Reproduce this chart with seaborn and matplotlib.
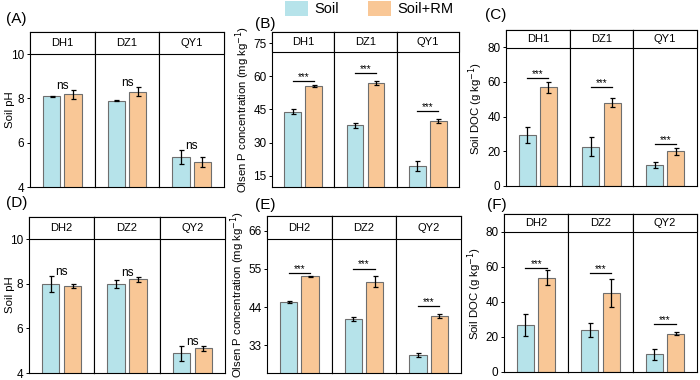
import matplotlib
matplotlib.use("Agg")
import matplotlib.pyplot as plt
from matplotlib.patches import Patch, Rectangle
import seaborn as sns
import pandas as pd

# ---- data ----
treatments = ["Soil", "Soil+RM"]

sites_1 = ["DH1", "DZ1", "QY1"]
sites_2 = ["DH2", "DZ2", "QY2"]

ph1_soil = [8.09, 7.90, 5.35]
ph1_soil_sd = [0.03, 0.02, 0.32]
ph1_rm = [8.18, 8.30, 5.12]
ph1_rm_sd = [0.22, 0.21, 0.22]

olsen1_soil = [44.0, 37.8, 19.5]
olsen1_soil_sd = [1.0, 1.0, 2.1]
olsen1_rm = [55.6, 57.0, 39.9]
olsen1_rm_sd = [0.6, 1.0, 1.0]

doc1_soil = [29.2, 22.7, 12.1]
doc1_soil_sd = [4.6, 5.6, 1.9]
doc1_rm = [56.9, 48.1, 20.0]
doc1_rm_sd = [3.0, 2.7, 2.2]

ph2_soil = [8.00, 8.00, 4.89]
ph2_soil_sd = [0.37, 0.17, 0.33]
ph2_rm = [7.90, 8.20, 5.10]
ph2_rm_sd = [0.10, 0.10, 0.11]

olsen2_soil = [45.6, 40.6, 30.3]
olsen2_soil_sd = [0.3, 0.65, 0.6]
olsen2_rm = [52.9, 51.3, 41.5]
olsen2_rm_sd = [0.2, 1.6, 0.6]

doc2_soil = [26.8, 23.9, 10.0]
doc2_soil_sd = [6.1, 4.1, 3.0]
doc2_rm = [53.8, 44.8, 21.8]
doc2_rm_sd = [4.1, 8.0, 1.0]

# significance labels and bracket heights
sig_ph1 = ["ns", "ns", "ns"]
sig_olsen1 = ["***", "***", "***"]
sig_olsen1_y = [57.8, 61.5, 44.3]
sig_doc1 = ["***", "***", "***"]
sig_doc1_y = [62.1, 57.1, 24.4]
sig_ph2 = ["ns", "ns", "ns"]
sig_olsen2 = ["***", "***", "***"]
sig_olsen2_y = [53.8, 55.1, 44.3]
sig_doc2 = ["***", "***", "***"]
sig_doc2_y = [59.1, 56.5, 27.2]

colors = ["#b6e3ea", "#f9c796"]
plt.rcParams["font.family"] = ["Liberation Sans", "DejaVu Sans"]

W, H = 700, 380
fig = plt.figure(figsize=(7, 3.8), dpi=100)

panels = [
    dict(tag="(A)", box=(30, 224, 32, 187), sites=sites_1, soil=ph1_soil, soil_sd=ph1_soil_sd,
         rm=ph1_rm, rm_sd=ph1_rm_sd, sig=sig_ph1, sig_y=None, ylim=(4, 11), ticks=[4, 6, 8, 10],
         ylabel="Soil pH", labx=15, strip=0.142, tagpos=(6, 19)),
    dict(tag="(B)", box=(272, 459, 32, 187), sites=sites_1, soil=olsen1_soil, soil_sd=olsen1_soil_sd,
         rm=olsen1_rm, rm_sd=olsen1_rm_sd, sig=sig_olsen1, sig_y=sig_olsen1_y, ylim=(10, 80),
         ticks=[15, 30, 45, 60, 75], ylabel="Olsen P concentration (mg kg$^{-1}$)", labx=252,
         strip=0.131, tagpos=(255, 24)),
    dict(tag="(C)", box=(506, 697, 30, 186), sites=sites_1, soil=doc1_soil, soil_sd=doc1_soil_sd,
         rm=doc1_rm, rm_sd=doc1_rm_sd, sig=sig_doc1, sig_y=sig_doc1_y, ylim=(0, 90),
         ticks=[0, 20, 40, 60, 80], ylabel="Soil DOC (g kg$^{-1}$)", labx=485, strip=0.113,
         tagpos=(485, 15)),
    dict(tag="(D)", box=(29, 225, 217, 373), sites=sites_2, soil=ph2_soil, soil_sd=ph2_soil_sd,
         rm=ph2_rm, rm_sd=ph2_rm_sd, sig=sig_ph2, sig_y=None, ylim=(4, 11), ticks=[4, 6, 8, 10],
         ylabel="Soil pH", labx=15, strip=0.141, tagpos=(6, 203)),
    dict(tag="(E)", box=(267, 461, 216, 373), sites=sites_2, soil=olsen2_soil, soil_sd=olsen2_soil_sd,
         rm=olsen2_rm, rm_sd=olsen2_rm_sd, sig=sig_olsen2, sig_y=sig_olsen2_y, ylim=(25.1, 70.2),
         ticks=[33, 44, 55, 66], ylabel="Olsen P concentration (mg kg$^{-1}$)", labx=247,
         strip=0.149, tagpos=(255, 205)),
    dict(tag="(F)", box=(504, 697, 214, 372), sites=sites_2, soil=doc2_soil, soil_sd=doc2_soil_sd,
         rm=doc2_rm, rm_sd=doc2_rm_sd, sig=sig_doc2, sig_y=sig_doc2_y, ylim=(0, 90),
         ticks=[0, 20, 40, 60, 80], ylabel="Soil DOC (g kg$^{-1}$)", labx=484, strip=0.114,
         tagpos=(487, 205)),
]

for p in panels:
    l, r, t, b = p["box"]
    fw = (r - l) / 3
    rng = p["ylim"][1] - p["ylim"][0]
    for i, site in enumerate(p["sites"]):
        ax = fig.add_axes([(l + i * fw) / W, 1 - b / H, fw / W, (b - t) / H])
        df = pd.DataFrame({"trt": treatments, "val": [p["soil"][i], p["rm"][i]]})
        sns.barplot(data=df, x="trt", y="val", hue="trt", palette=colors, width=0.8,
                    saturation=1, errorbar=None, edgecolor="#6e6e6e", linewidth=0.8,
                    legend=False, ax=ax)
        sds = [p["soil_sd"][i], p["rm_sd"][i]]
        ax.errorbar([0, 1], df["val"], yerr=sds, fmt="none", ecolor="black",
                    elinewidth=0.9, capsize=1.8, capthick=0.9, zorder=4)
        top = max(v + s for v, s in zip(df["val"], sds))
        if p["sig_y"] is None:
            ax.text(0.5, top + 0.025 * rng, p["sig"][i], ha="center", va="center", fontsize=8.5)
        else:
            y = p["sig_y"][i]
            ax.plot([0, 1], [y, y], color="black", lw=0.9)
            ax.annotate(p["sig"][i], xy=(0.5, y), xytext=(0, 0.8), textcoords="offset points",
                        ha="center", va="baseline", fontsize=7)
        ax.set_xlim(-1, 2)
        ax.set_ylim(*p["ylim"])
        ax.set_xticks([])
        ax.set_xlabel("")
        for s in ax.spines.values():
            s.set_linewidth(0.8)
            s.set_color("black")
        if i == 0:
            ax.set_yticks(p["ticks"])
            ax.tick_params(axis="y", labelsize=8.5, length=2.5, width=0.7, pad=1.5)
            ax.set_ylabel(p["ylabel"], fontsize=8.2)
            ax.yaxis.set_label_coords((p["labx"] - l) / fw, 0.5)
        else:
            ax.set_yticks([])
            ax.set_ylabel("")
        # facet strip
        ax.add_patch(Rectangle((0, 1 - p["strip"]), 1, p["strip"], transform=ax.transAxes,
                               facecolor="white", edgecolor="black", lw=0.8, zorder=6,
                               clip_on=False))
        ax.text(0.5, 1 - p["strip"] / 2, site, transform=ax.transAxes, ha="center",
                va="center", fontsize=8, zorder=7)
    fig.text(p["tagpos"][0] / W, 1 - p["tagpos"][1] / H, p["tag"], fontsize=11,
             ha="left", va="center")

handles = [Patch(facecolor=c, edgecolor="none") for c in colors]
fig.legend(handles, treatments, loc="upper left", bbox_to_anchor=(285 / W, 0.998), ncol=2,
           frameon=False, fontsize=10.5, handlelength=1.6, handleheight=1.2,
           handletextpad=0.4, columnspacing=2.0, borderpad=0, borderaxespad=0)

fig.savefig("out.png", dpi=100)
